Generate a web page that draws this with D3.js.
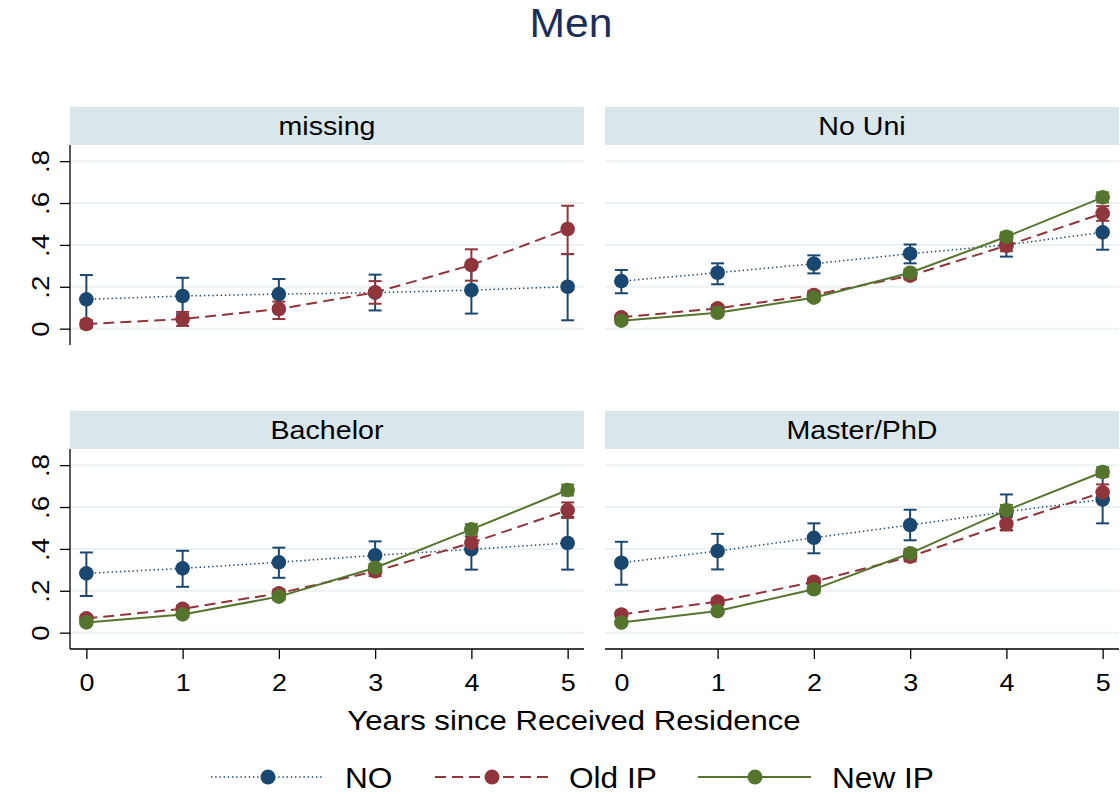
<!DOCTYPE html>
<html>
<head>
<meta charset="utf-8">
<script src="https://cdn.jsdelivr.net/npm/d3@7"></script>
<style>
  html, body { margin: 0; padding: 0; background: #fff; }
  svg { display: block; font-family: "Liberation Sans", Arial, sans-serif; }
</style>
</head>
<body>
<svg id="chart" width="1120" height="794"></svg>
<script>
// ---------------- DATA ----------------
const years = [0, 1, 2, 3, 4, 5];
const panelNames = ["missing", "No Uni", "Bachelor", "Master/PhD"];
const seriesNames = ["NO", "Old IP", "New IP"];
const yTicks = [0, 0.2, 0.4, 0.6, 0.8];
const yTickLabels = ["0", ".2", ".4", ".6", ".8"];
const xTickLabels = ["0", "1", "2", "3", "4", "5"];

// missing
const missingNO    = [0.140, 0.156, 0.165, 0.172, 0.184, 0.200];
const missingNOLo  = [0.024, 0.069, 0.093, 0.087, 0.072, 0.040];
const missingNOHi  = [0.256, 0.243, 0.237, 0.258, 0.297, 0.356];
const missingOld   = [0.022, 0.046, 0.094, 0.173, 0.304, 0.476];
const missingOldLo = [0.005, 0.013, 0.046, 0.119, 0.229, 0.356];
const missingOldHi = [0.040, 0.080, 0.129, 0.227, 0.379, 0.587];

// No Uni
const noUniNO    = [0.227, 0.267, 0.310, 0.358, 0.400, 0.460];
const noUniNOLo  = [0.169, 0.212, 0.264, 0.312, 0.344, 0.377];
const noUniNOHi  = [0.280, 0.312, 0.350, 0.402, 0.455, 0.540];
const noUniOld   = [0.054, 0.097, 0.161, 0.253, 0.396, 0.550];
const noUniOldLo = [0.040, 0.082, 0.143, 0.235, 0.370, 0.515];
const noUniOldHi = [0.068, 0.112, 0.179, 0.271, 0.422, 0.585];
const noUniNew   = [0.038, 0.076, 0.148, 0.267, 0.439, 0.627];
const noUniNewLo = [0.030, 0.066, 0.136, 0.250, 0.418, 0.603];
const noUniNewHi = [0.046, 0.086, 0.160, 0.284, 0.460, 0.651];

// Bachelor
const bachNO    = [0.283, 0.307, 0.336, 0.369, 0.398, 0.428];
const bachNOLo  = [0.175, 0.219, 0.262, 0.302, 0.301, 0.301];
const bachNOHi  = [0.383, 0.391, 0.406, 0.436, 0.495, 0.552];
const bachOld   = [0.068, 0.114, 0.188, 0.293, 0.429, 0.585];
const bachOldLo = [0.055, 0.098, 0.170, 0.270, 0.400, 0.548];
const bachOldHi = [0.081, 0.130, 0.206, 0.316, 0.458, 0.622];
const bachNew   = [0.049, 0.087, 0.172, 0.310, 0.493, 0.681];
const bachNewLo = [0.040, 0.076, 0.158, 0.292, 0.468, 0.655];
const bachNewHi = [0.058, 0.098, 0.186, 0.328, 0.518, 0.707];

// Master/PhD
const mastNO    = [0.334, 0.390, 0.453, 0.514, 0.577, 0.636];
const mastNOLo  = [0.229, 0.302, 0.379, 0.441, 0.490, 0.522];
const mastNOHi  = [0.434, 0.472, 0.522, 0.587, 0.660, 0.750];
const mastOld   = [0.087, 0.148, 0.243, 0.363, 0.520, 0.670];
const mastOldLo = [0.075, 0.132, 0.225, 0.340, 0.488, 0.632];
const mastOldHi = [0.099, 0.164, 0.261, 0.386, 0.552, 0.708];
const mastNew   = [0.048, 0.103, 0.207, 0.379, 0.584, 0.767];
const mastNewLo = [0.040, 0.092, 0.190, 0.358, 0.558, 0.744];
const mastNewHi = [0.056, 0.114, 0.224, 0.400, 0.610, 0.790];

// ---------------- BUILD ----------------
const panelData = [
  [ [missingNO, missingNOLo, missingNOHi], [missingOld, missingOldLo, missingOldHi], null ],
  [ [noUniNO, noUniNOLo, noUniNOHi], [noUniOld, noUniOldLo, noUniOldHi], [noUniNew, noUniNewLo, noUniNewHi] ],
  [ [bachNO, bachNOLo, bachNOHi], [bachOld, bachOldLo, bachOldHi], [bachNew, bachNewLo, bachNewHi] ],
  [ [mastNO, mastNOLo, mastNOHi], [mastOld, mastOldLo, mastOldHi], [mastNew, mastNewLo, mastNewHi] ]
];

const colors = ["#1a476f", "#90353b", "#55752f"];
const dashes = ["1.4,2.8", "11,6", null];
const widths = [1.5, 2, 2];

const svg = d3.select("#chart");
const FONT = "'Liberation Sans', Arial, sans-serif";

// widen glyphs horizontally (reference font renders wider than Arial)
function stretch(sel, sx) {
  sel.each(function () {
    const w = this.getComputedTextLength();
    this.setAttribute("textLength", (w * sx).toFixed(2));
    this.setAttribute("lengthAdjust", "spacingAndGlyphs");
  });
}

const panelW = 514, plotH = 200, stripH = 38;
const colX = [70, 605];
const rowStripTop = [107, 411];

const x = d3.scaleLinear().domain([-0.17, 5.17]).range([0, panelW]);
const y = d3.scaleLinear().domain([-0.078, 0.877]).range([plotH, 0]);

// Title
svg.append("text").attr("x", 571).attr("y", 37).attr("text-anchor", "middle")
  .attr("font-family", FONT).attr("font-size", 41).attr("fill", "#1c2d58").text("Men")
  .call(stretch, 1.04);

panelNames.forEach((name, i) => {
  const col = i % 2, row = Math.floor(i / 2);
  const gx = colX[col], stripTop = rowStripTop[row];
  const plotTop = stripTop + stripH;
  const g = svg.append("g").attr("transform", `translate(${gx},${plotTop})`);

  // strip
  svg.append("rect").attr("x", gx).attr("y", stripTop).attr("width", panelW).attr("height", stripH)
    .attr("fill", "#d9e6ec");
  svg.append("text").attr("x", gx + panelW / 2).attr("y", stripTop + stripH / 2 + 9)
    .attr("text-anchor", "middle").attr("font-family", FONT).attr("font-size", 26)
    .attr("fill", "#000").text(name).call(stretch, 1.1);

  // gridlines
  g.selectAll("line.grid").data(yTicks).enter().append("line")
    .attr("x1", 0).attr("x2", panelW)
    .attr("y1", d => y(d)).attr("y2", d => y(d))
    .attr("stroke", "#eaf2f3").attr("stroke-width", 2);

  // y axis (left column only)
  if (col === 0) {
    const yAxis = d3.axisLeft(y).tickValues(yTicks).tickSize(10)
      .tickFormat((d, k) => yTickLabels[k]);
    const ya = g.append("g").call(yAxis);
    ya.select(".domain").attr("stroke", "#000").attr("stroke-width", 1.3).attr("d", `M0,0V${plotH}`);
    ya.selectAll(".tick line").attr("stroke", "#000").attr("stroke-width", 1.3);
    ya.selectAll(".tick text").attr("font-family", FONT).attr("font-size", 24).attr("fill", "#000")
      .attr("transform", "rotate(-90)").attr("x", 0).attr("y", -30).attr("dy", "0.36em")
      .attr("text-anchor", "middle").call(stretch, 1.15);
  }
  // x axis (bottom row only)
  if (row === 1) {
    const xAxis = d3.axisBottom(x).tickValues(years).tickSize(10)
      .tickFormat((d, k) => xTickLabels[k]);
    const xa = g.append("g").attr("transform", `translate(0,${plotH})`).call(xAxis);
    xa.select(".domain").attr("stroke", "#000").attr("stroke-width", 1.3).attr("d", `M0,0H${panelW}`);
    xa.selectAll(".tick line").attr("stroke", "#000").attr("stroke-width", 1.3);
    xa.selectAll(".tick text").attr("font-family", FONT).attr("font-size", 24).attr("fill", "#000")
      .attr("y", 41.5).attr("dy", 0).call(stretch, 1.12);
  }

  const series = panelData[i];
  // CIs
  series.forEach((s, si) => {
    if (!s) return;
    const [m, lo, hi] = s;
    const cg = g.append("g").attr("stroke", colors[si]).attr("stroke-width", 2).attr("fill", "none");
    years.forEach((yr, k) => {
      cg.append("line").attr("x1", x(yr)).attr("x2", x(yr)).attr("y1", y(lo[k])).attr("y2", y(hi[k]));
      cg.append("line").attr("x1", x(yr) - 6.5).attr("x2", x(yr) + 6.5).attr("y1", y(lo[k])).attr("y2", y(lo[k]));
      cg.append("line").attr("x1", x(yr) - 6.5).attr("x2", x(yr) + 6.5).attr("y1", y(hi[k])).attr("y2", y(hi[k]));
    });
  });
  // lines + markers
  series.forEach((s, si) => {
    if (!s) return;
    const m = s[0];
    const line = d3.line().x((d, k) => x(years[k])).y(d => y(d));
    g.append("path").attr("d", line(m)).attr("fill", "none").attr("stroke", colors[si])
      .attr("stroke-width", widths[si]).attr("stroke-dasharray", dashes[si]);
    g.selectAll(null).data(m).enter().append("circle")
      .attr("cx", (d, k) => x(years[k])).attr("cy", d => y(d)).attr("r", 7.3)
      .attr("fill", colors[si]);
  });
});

// x axis title
svg.append("text").attr("x", 574).attr("y", 730).attr("text-anchor", "middle")
  .attr("font-family", FONT).attr("font-size", 28).attr("fill", "#000")
  .text("Years since Received Residence").call(stretch, 1.11);

// legend
const legendY = 777;
const legendX = [211, 435, 698];
seriesNames.forEach((nm, si) => {
  const lx = legendX[si];
  svg.append("line").attr("x1", lx).attr("x2", lx + 113).attr("y1", legendY).attr("y2", legendY)
    .attr("stroke", colors[si]).attr("stroke-width", widths[si]).attr("stroke-dasharray", dashes[si]);
  svg.append("circle").attr("cx", lx + 57).attr("cy", legendY).attr("r", 7.5).attr("fill", colors[si]);
  svg.append("text").attr("x", lx + 134).attr("y", legendY + 10.5).attr("font-family", FONT)
    .attr("font-size", 29).attr("fill", "#000").text(nm).call(stretch, 1.09);
});
</script>
</body>
</html>
